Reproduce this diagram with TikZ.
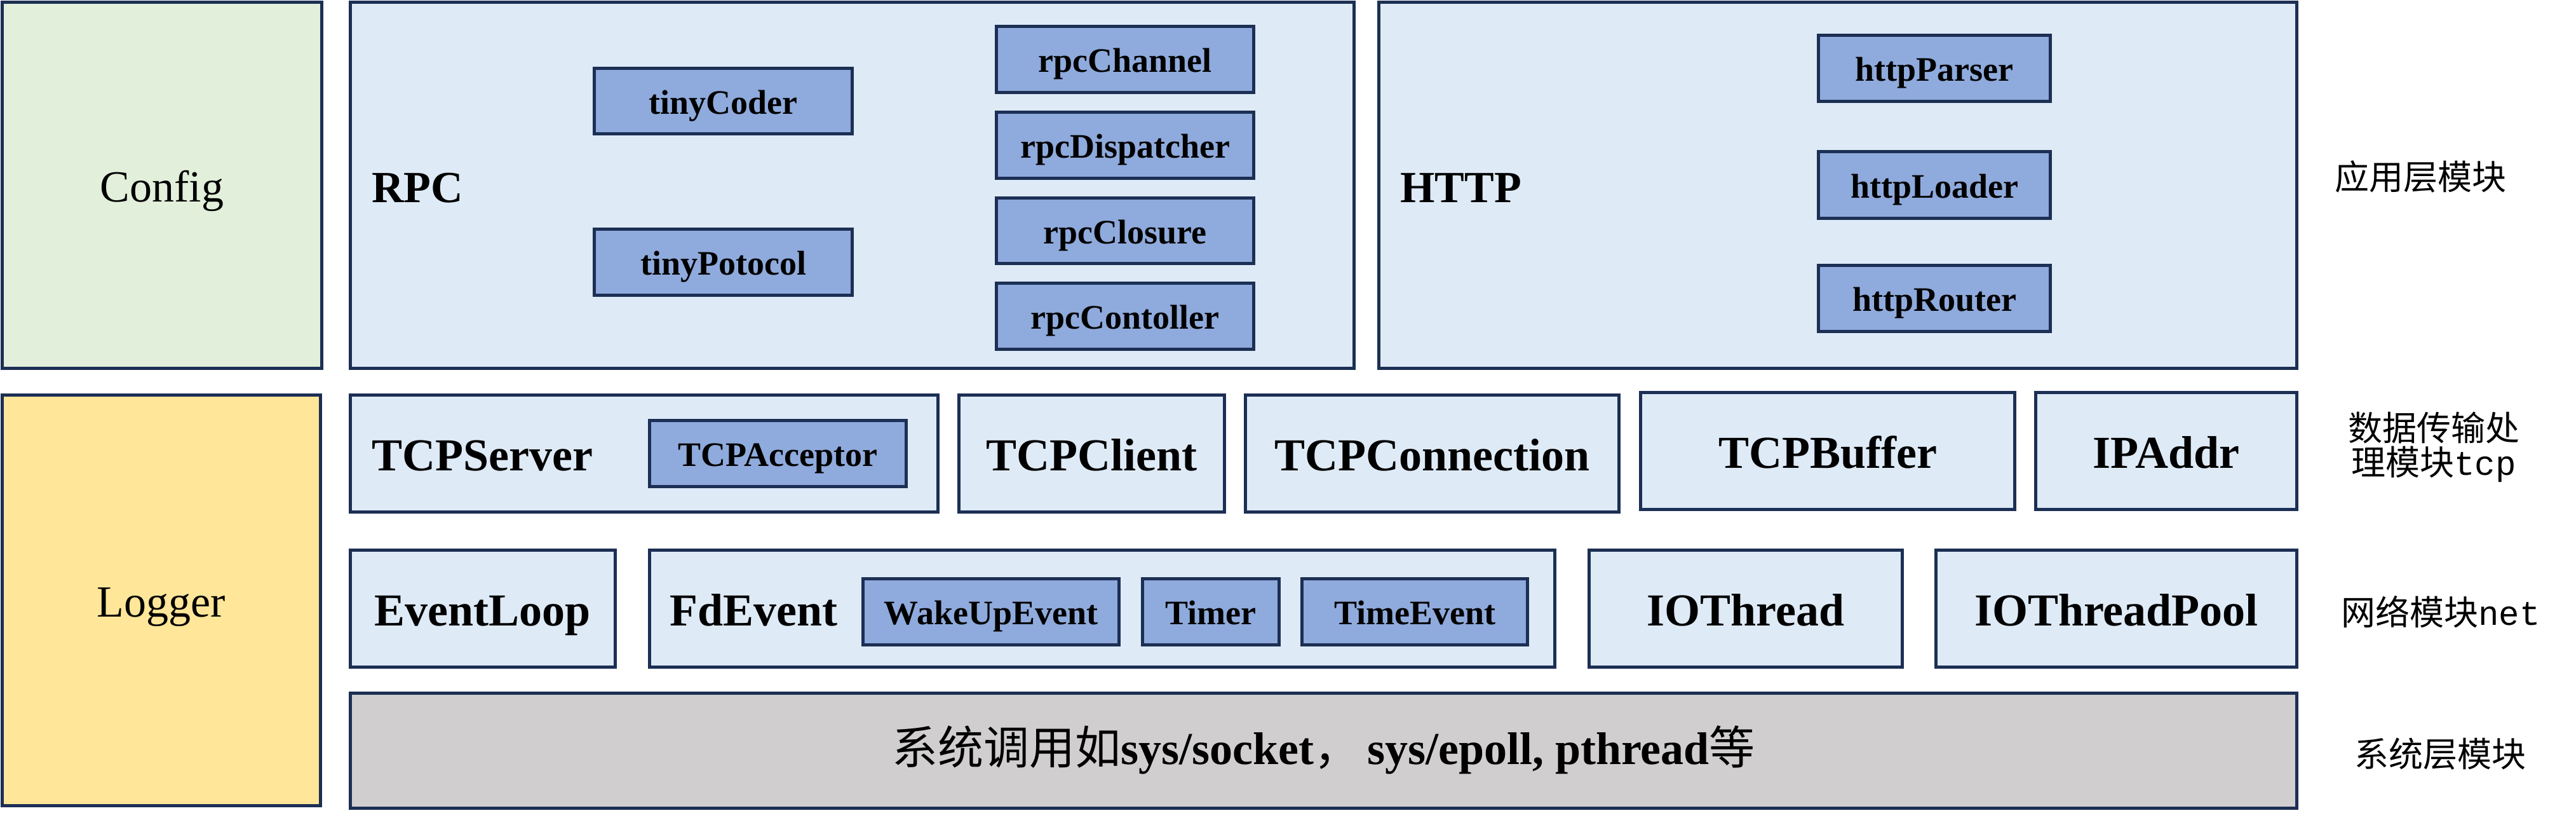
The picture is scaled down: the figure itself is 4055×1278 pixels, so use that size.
\documentclass[tikz,border=0pt]{standalone}
\usepackage{fontspec}
\setmainfont{Liberation Serif}
\newfontfamily\cjk{Noto Sans CJK SC}
\newfontfamily\monof{Liberation Mono}
\definecolor{navy}{HTML}{1C2F54}
\definecolor{lblue}{HTML}{DEEAF6}
\definecolor{mblue}{HTML}{8FAADC}
\definecolor{lgreen}{HTML}{E2EFDA}
\definecolor{lyellow}{HTML}{FFE699}
\definecolor{lgray}{HTML}{D0CECE}
\newcommand\fsz[1]{\fontsize{#1}{#1}\selectfont}
% \bx{style}{name}{x1}{y1}{x2}{y2}{text} : outer edges of the frame
\newcommand\bx[7]{\node[#1, minimum width={(#5-#3-5)*1pt}, minimum height={(#6-#4-5)*1pt}, anchor=center] (#2) at ({(#3+#5)/2},{(#4+#6)/2}) {#7};}
\tikzset{
  outer/.style={draw=navy, line width=5pt, inner sep=0pt, fill=lblue, font=\fsz{72}\bfseries, text height=54pt, text depth=0pt},
  sub/.style={outer, fill=mblue, font=\fsz{54}\bfseries, text height=40.5pt},
  big/.style={font=\fsz{70}, text height=52.5pt},
  lbl/.style={inner sep=0pt, anchor=west, font=\fsz{72}\bfseries, text height=54pt, text depth=0pt},
  note/.style={inner sep=0pt, align=center, font=\fsz{54}\cjk},
}
\begin{document}
\begin{tikzpicture}[x=1pt,y=-1pt]
\useasboundingbox (0,0) rectangle (4055,1278);
% left columns
\bx{outer, big, fill=lgreen}{config}{1}{1}{509}{582}{Config}
\bx{outer, big, fill=lyellow}{logger}{1}{619}{507}{1270}{Logger}
% RPC
\bx{outer}{rpc}{549}{1}{2134}{582}{}
\node[lbl, big, font=\fsz{70}\bfseries] (rpclbl) at (585,292) {RPC};
\bx{sub}{tinycoder}{933}{105}{1344}{213}{tinyCoder}
\bx{sub}{tinypotocol}{933}{358}{1344}{467}{tinyPotocol}
\bx{sub}{rpcchannel}{1566}{39}{1976}{148}{rpcChannel}
\bx{sub}{rpcdispatcher}{1566}{174}{1976}{283}{rpcDispatcher}
\bx{sub}{rpcclosure}{1566}{309}{1976}{417}{rpcClosure}
\bx{sub}{rpccontoller}{1566}{443}{1976}{552}{rpcContoller}
% HTTP
\bx{outer}{http}{2168}{1}{3618}{582}{}
\node[lbl, big, font=\fsz{70}\bfseries] (httplbl) at (2204,292) {HTTP};
\bx{sub}{httpparser}{2860}{53}{3230}{162}{httpParser}
\bx{sub}{httploader}{2860}{236}{3230}{346}{httpLoader}
\bx{sub}{httprouter}{2860}{415}{3230}{524}{httpRouter}
% TCP row
\bx{outer}{tcpserver}{549}{619}{1479}{808}{}
\node[lbl] (tcpserverlbl) at (585,713) {TCPServer};
\bx{sub}{tcpacceptor}{1020}{659}{1429}{768}{TCPAcceptor}
\bx{outer}{tcpclient}{1507}{619}{1930}{808}{TCPClient}
\bx{outer}{tcpconnection}{1958}{619}{2551}{808}{TCPConnection}
\bx{outer}{tcpbuffer}{2580}{615}{3174}{804}{TCPBuffer}
\bx{outer}{ipaddr}{3202}{615}{3618}{804}{IPAddr}
% net row
\bx{outer}{eventloop}{549}{863}{971}{1052}{EventLoop}
\bx{outer}{fdevent}{1020}{863}{2450}{1052}{}
\node[lbl] (fdeventlbl) at (1054,957) {FdEvent};
\bx{sub}{wakeup}{1356}{908}{1764}{1017}{WakeUpEvent}
\bx{sub}{timer}{1796}{908}{2016}{1017}{Timer}
\bx{sub}{timeevent}{2047}{908}{2407}{1017}{TimeEvent}
\bx{outer}{iothread}{2499}{863}{2997}{1052}{IOThread}
\bx{outer}{iothreadpool}{3045}{863}{3618}{1052}{IOThreadPool}
% system row
\bx{outer, fill=lgray, text height=43pt}{system}{549}{1088}{3618}{1274}{{\cjk\mdseries 系统调用如}sys/socket{\cjk\mdseries ，}\,sys/epoll, pthread{\cjk\mdseries 等}}
% layer notes
\node[note] (n1) at (3810,278) {应用层模块};
\node[note] (n2) at (3831,703) {数据传输处\\理模块{\monof tcp}};
\node[note] (n3) at (3842,963) {网络模块{\monof net}};
\node[note] (n4) at (3841,1186) {系统层模块};
\end{tikzpicture}
\end{document}
